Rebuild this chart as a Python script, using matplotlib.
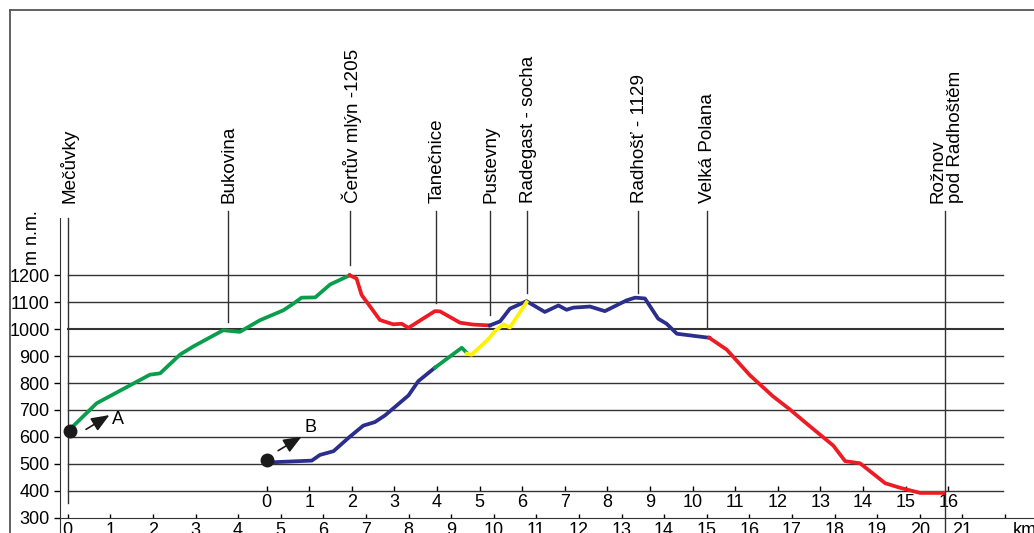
import numpy as np
import matplotlib.pyplot as plt
from matplotlib.lines import Line2D

plt.rcParams['font.family'] = ['Liberation Sans', 'DejaVu Sans']
plt.rcParams['font.size'] = 13

###########################################################
# data
###########################################################
# route A, km from Mečůvky, m a.s.l.
a_green_km = [0.05, 0.68, 1.93, 2.17, 2.64, 2.95, 3.65, 4.04, 4.51, 5.06, 5.30, 5.49, 5.81, 6.16, 6.62]
a_green_m = [628, 725, 831, 836, 906, 936, 996, 990, 1033, 1070, 1095, 1117, 1118, 1166, 1200]

a_red1_km = [6.62, 6.78, 6.90, 7.33, 7.64, 7.84, 8.00, 8.62, 8.74, 9.21, 9.52, 9.91]
a_red1_m = [1200, 1188, 1127, 1034, 1018, 1020, 1005, 1067, 1066, 1024, 1017, 1014]

a_blue_km = [9.91, 10.15, 10.38, 10.77, 11.20, 11.52, 11.71, 11.87, 12.26, 12.61, 13.12, 13.32,
             13.55, 13.86, 14.06, 14.30, 15.06]
a_blue_m = [1014, 1029, 1076, 1104, 1064, 1088, 1072, 1080, 1084, 1067, 1107, 1117,
            1114, 1039, 1020, 983, 968]

a_red2_km = [15.06, 15.47, 16.02, 16.56, 16.96, 17.35, 17.97, 18.25, 18.60, 19.19, 19.54, 20.01, 20.55]
a_red2_m = [968, 924, 828, 750, 701, 649, 568, 510, 502, 428, 411, 392, 392]

# route B, km on its own scale
b_blue_km = [0.0, 0.16, 1.06, 1.25, 1.57, 1.94, 2.27, 2.54, 2.78, 3.33, 3.56, 3.95]
b_blue_m = [508, 506, 512, 533, 547, 599, 642, 655, 680, 754, 807, 857]

b_green_km = [3.95, 4.58, 4.68]
b_green_m = [857, 931, 915]

b_yellow_km = [4.70, 4.81, 5.20, 5.36, 5.56, 5.71, 6.10]
b_yellow_m = [909, 905, 962, 993, 1018, 1006, 1100]

# start of B on the km scale of A
b_offset = 4.67

station_names = ['Mečůvky', 'Bukovina', 'Čertův mlýn -1205', 'Tanečnice', 'Pustevny',
                 'Radegast - socha', 'Radhošť - 1129', 'Velká Polana', 'Rožnov\npod Radhoštěm']
station_km = [0, 3.76, 6.63, 8.65, 9.91, 10.78, 13.39, 15.0, 20.6]
station_low = [354, 1027, 1238, 1097, 1053, 1134, 1134, 1004, 240]

y_ticks = list(range(300, 1300, 100))
x_ticks = list(range(0, 23))
x_labels = [str(i) for i in range(0, 22)] + ['']
b_ticks = list(range(0, 17))

green = '#0a9e4c'
red = '#ed1c24'
blue = '#2b2e8c'
yellow = '#fff200'
ink = '#1a1a1a'

###########################################################
# figure
###########################################################
W, H = 1034, 533
fig = plt.figure(figsize=(W / 100, H / 100), dpi=100)

px_km = 42.6
px_m = 0.2693
x_left = (60 - 67.7) / px_km
x_right = (W - 67.7) / px_km
y_top = 1200 + (275.3 - 218) / px_m

ax = fig.add_axes([60 / W, (H - 517.7) / H, (W - 60) / W, (517.7 - 218) / H])
ax.set_xlim(x_left, x_right)
ax.set_ylim(300, y_top)

for s in ['top', 'right']:
    ax.spines[s].set_visible(False)
ax.spines['left'].set_bounds(240, y_top)
ax.spines['left'].set_color('#333333')
ax.spines['bottom'].set_color('#333333')

ax.set_yticks(y_ticks)
ax.tick_params(axis='y', direction='out', length=4.5, width=1, pad=3, labelsize=13)
ax.set_xticks(x_ticks)
ax.set_xticklabels(x_labels)
ax.tick_params(axis='x', direction='in', length=3, width=1, pad=3, labelsize=13)

# horizontal lines
for y in y_ticks[1:]:
    ax.plot([0, 21.96], [y, y], color='#333333', lw=1.5 if y == 1000 else 1.0, zorder=1)

# second km scale for route B
sec = ax.secondary_xaxis((400 - 300) / (y_top - 300),
                         functions=(lambda x: x - b_offset, lambda x: x + b_offset))
sec.set_xticks(b_ticks)
sec.tick_params(direction='in', length=3.5, width=1, pad=2, labelsize=13)
sec.spines['bottom'].set_visible(False)

# stations
for name, km, low in zip(station_names, station_km, station_low):
    top = 1412 if km == 0 else 1439
    ax.plot([km, km], [low, top], color='#333333', lw=1.0, zorder=1, clip_on=False)
    ax.text(km + 0.03, 1468, name, rotation=90, ha='center', va='bottom',
            multialignment='left', fontsize=13.6, clip_on=False, linespacing=1.0)

ax.text(-0.815, 1237, 'm n.m.', rotation=90, ha='center', va='bottom', fontsize=13, clip_on=False)
ax.text(22.19, 284, 'km', ha='left', va='top', fontsize=13, clip_on=False)

# route A
lw = 2.7
ax.plot(a_green_km, a_green_m, color=green, lw=lw, zorder=3)
ax.plot(a_red1_km, a_red1_m, color=red, lw=lw, zorder=3)
ax.plot(a_blue_km, a_blue_m, color=blue, lw=lw, zorder=3)
ax.plot(a_red2_km, a_red2_m, color=red, lw=lw, zorder=3)

# route B
bx = lambda v: [k + b_offset for k in v]
ax.plot(bx(b_blue_km), b_blue_m, color=blue, lw=lw, zorder=3)
ax.plot(bx(b_green_km), b_green_m, color=green, lw=lw, zorder=3)
ax.plot(bx(b_yellow_km), b_yellow_m, color=yellow, lw=lw, zorder=3)

# start points and arrows
ax.plot([0.05, b_offset], [623, 514], 'o', color=ink, ms=9, zorder=4, clip_on=False)
arrow = dict(arrowstyle='-|>,head_length=1.0,head_width=0.4', lw=1.2, color=ink,
             shrinkA=0, shrinkB=0, mutation_scale=11)
ax.annotate('', xy=(0.98, 681), xytext=(0.43, 628), arrowprops=arrow)
ax.text(1.04, 665, 'A', ha='left', va='center', fontsize=13)
ax.annotate('', xy=(b_offset + 0.82, 601), xytext=(b_offset + 0.27, 549), arrowprops=arrow)
ax.text(b_offset + 0.88, 634, 'B', ha='left', va='center', fontsize=13)

# frame of the picture
fig.add_artist(Line2D([10 / W, 10 / W], [0, 1 - 10 / H], transform=fig.transFigure, color='#555555', lw=1.3))
fig.add_artist(Line2D([10 / W, 1], [1 - 10 / H, 1 - 10 / H], transform=fig.transFigure, color='#555555', lw=1.3))

fig.savefig('out.png', dpi=100)
